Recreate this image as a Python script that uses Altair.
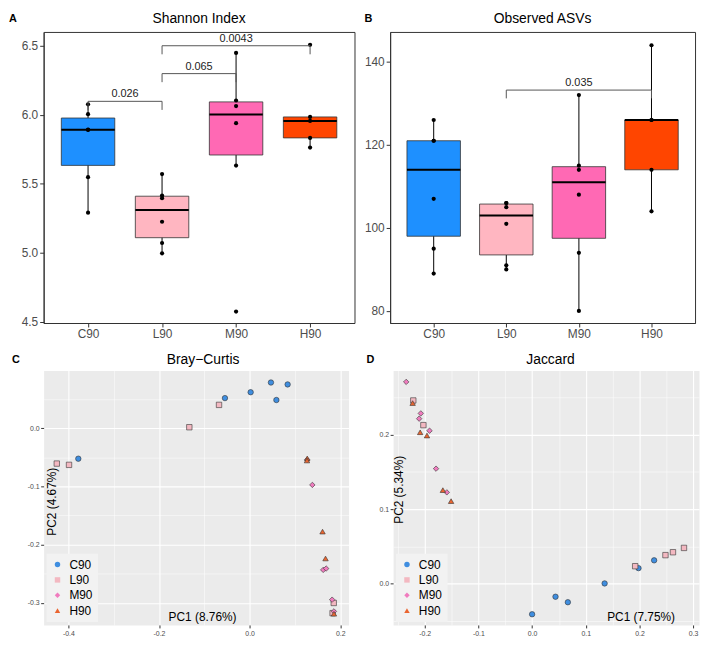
import altair as alt
import pandas as pd

FONT = "Liberation Sans"

groups = ["C90", "L90", "M90", "H90"]
box_colors = ["#1E90FF", "#FFB6C1", "#FF69B4", "#FF4500"]
point_colors = ["#3F8EE0", "#F3B8C1", "#F07BBE", "#EA6530"]
shapes = ["circle", "square", "diamond", "triangle-up"]
letters = ["A", "B", "C", "D"]
titles = ["Shannon Index", "Observed ASVs", "Bray\u2212Curtis", "Jaccard"]

# ---- Panel A: Shannon index ----
shannon_C90 = [6.075, 6.004, 5.892, 5.890, 5.547, 5.290]
shannon_L90 = [5.570, 5.414, 5.395, 5.224, 5.070, 4.995]
shannon_M90 = [6.448, 6.103, 6.063, 5.939, 5.631, 4.573]
shannon_H90 = [6.507, 5.984, 5.955, 5.832, 5.762]
shannon_from = ["C90", "L90", "L90"]
shannon_to = ["L90", "M90", "H90"]
shannon_bracket_y = [6.097, 6.298, 6.50]
shannon_p = ["0.026", "0.065", "0.0043"]

# ---- Panel B: Observed ASVs ----
asv_C90 = [126, 121, 121, 107, 95, 89]
asv_L90 = [106, 106, 105, 101, 91, 90]
asv_M90 = [132, 115, 114, 108, 94, 80]
asv_H90 = [144, 126, 126, 114, 104]
asv_from = ["L90"]
asv_to = ["H90"]
asv_bracket_y = [133.2]
asv_p = ["0.035"]

# ---- Panel C: Bray-Curtis PCoA ----
bray_C90_pc1 = [0.047, 0.0838, 0.0022, -0.0545, 0.059, -0.378]
bray_C90_pc2 = [0.0786, 0.0753, 0.0619, 0.0518, 0.0485, -0.0524]
bray_L90_pc1 = [-0.0676, -0.1331, -0.4255, -0.3985, 0.1855, 0.183]
bray_L90_pc2 = [0.0401, 0.0017, -0.0608, -0.063, -0.3005, -0.318]
bray_M90_pc1 = [0.127, 0.1383, 0.1623, 0.1688, 0.182, 0.186]
bray_M90_pc2 = [-0.054, -0.0975, -0.2436, -0.2413, -0.2948, -0.315]
bray_H90_pc1 = [0.127, 0.1265, 0.1608, 0.1674, 0.186]
bray_H90_pc2 = [-0.052, -0.0555, -0.1778, -0.224, -0.319]

# ---- Panel D: Jaccard PCoA ----
jac_C90_pc1 = [0.1982, 0.2273, 0.1351, 0.0436, 0.0666, 0.0]
jac_C90_pc2 = [0.0206, 0.0311, 0.0, -0.0179, -0.0253, -0.0415]
jac_L90_pc1 = [-0.2213, -0.2025, 0.192, 0.2484, 0.2624, 0.2829]
jac_L90_pc2 = [0.2463, 0.2131, 0.0232, 0.0381, 0.042, 0.0478]
jac_M90_pc1 = [-0.2345, -0.2073, -0.2104, -0.191, -0.1789, -0.1589]
jac_M90_pc2 = [0.2713, 0.2289, 0.2218, 0.2056, 0.1545, 0.1226]
jac_H90_pc1 = [-0.2225, -0.2085, -0.1958, -0.1662, -0.1509]
jac_H90_pc2 = [0.2428, 0.2034, 0.1991, 0.1256, 0.1108]


def long_frame(series):
    rows = []
    for i, (g, vals) in enumerate(zip(groups, series)):
        for v in vals:
            rows.append({"group": g, "idx": i + 1, "value": v})
    return pd.DataFrame(rows)


def pc_frame(xs, ys):
    rows = []
    for g, xv, yv in zip(groups, xs, ys):
        for a, b in zip(xv, yv):
            rows.append({"grp": g, "pc1": a, "pc2": b})
    return pd.DataFrame(rows)


def bracket_frames(g_from, g_to, ys, ps, tip):
    idx = {g: i + 1 for i, g in enumerate(groups)}
    br = pd.DataFrame({
        "x1": [idx[g] for g in g_from],
        "x2": [idx[g] for g in g_to],
        "y": ys,
        "p": ps,
    })
    br["xm"] = (br["x1"] + br["x2"]) / 2
    tips = []
    for a, b, y in zip(br["x1"], br["x2"], br["y"]):
        tips.append({"x": a, "y": y, "yt": y - tip})
        tips.append({"x": b, "y": y, "yt": y - tip})
    return br, pd.DataFrame(tips)


def header_layers(letter, title, lx, tx, ty):
    let = alt.Chart(pd.DataFrame({"t": [letter]})).mark_text(
        fontWeight="bold", fontSize=11, align="center", baseline="middle", color="black"
    ).encode(text="t:N", x=alt.value(lx), y=alt.value(ty))
    tit = alt.Chart(pd.DataFrame({"t": [title]})).mark_text(
        fontSize=14, align="center", baseline="middle", color="black"
    ).encode(text="t:N", x=alt.value(tx), y=alt.value(ty))
    return [let, tit]


def box_panel(df, br, tips, title, letter, ydom, yvals, yfmt, width, height, lx, tx, ty):
    xsc = alt.Scale(domain=[0.4, 4.6], nice=False, zero=False, padding=0)
    ysc = alt.Scale(domain=ydom, nice=False, zero=False, padding=0)
    label_expr = "[" + ",".join("'" + g + "'" for g in groups) + "][datum.value - 1]"
    xaxis = alt.Axis(title=None, values=[1, 2, 3, 4], labelExpr=label_expr, labelFontSize=12,
                     labelColor="#4D4D4D", tickColor="#333333", tickSize=4, domainColor="#333333",
                     labelPadding=2, labelAngle=0, grid=False, labelFlush=False)
    yaxis = alt.Axis(title=None, values=yvals, format=yfmt, labelFontSize=12, labelColor="#4D4D4D",
                     tickColor="#333333", tickSize=4, domainColor="#333333", grid=False, labelPadding=2)

    def X(f):
        return alt.X(f, scale=xsc, axis=xaxis)

    def Y(f):
        return alt.Y(f, scale=ysc, axis=yaxis)

    base = alt.Chart(df)
    whisk = base.transform_joinaggregate(
        q1="q1(value)", q3="q3(value)", groupby=["idx"]
    ).transform_calculate(
        lo="datum.q1 - 1.5 * (datum.q3 - datum.q1)",
        hi="datum.q3 + 1.5 * (datum.q3 - datum.q1)",
    ).transform_filter(
        "datum.value >= datum.lo && datum.value <= datum.hi"
    ).transform_aggregate(
        wmin="min(value)", wmax="max(value)", groupby=["idx"]
    ).mark_rule(color="black", strokeWidth=1).encode(
        x=X("idx:Q"), y=Y("wmin:Q"), y2="wmax:Q",
    )
    stats = base.transform_aggregate(
        q1="q1(value)", q3="q3(value)", med="median(value)", groupby=["idx", "group"]
    )
    boxes = stats.mark_bar(size=54, stroke="#333333", strokeWidth=0.8).encode(
        x=X("idx:Q"), y=Y("q1:Q"), y2="q3:Q",
        fill=alt.Fill("group:N", scale=alt.Scale(domain=groups, range=box_colors), legend=None),
    )
    medians = stats.mark_bar(size=54, stroke="black", strokeWidth=2, fill="black").encode(
        x=X("idx:Q"), y=Y("med:Q"), y2="med:Q",
    )
    pts = base.mark_circle(size=18, color="black", opacity=1).encode(
        x=X("idx:Q"), y=Y("value:Q"),
    )
    hline = alt.Chart(br).mark_rule(color="#555555", strokeWidth=1).encode(
        x=X("x1:Q"), x2="x2:Q", y=Y("y:Q"),
    )
    vline = alt.Chart(tips).mark_rule(color="#555555", strokeWidth=1).encode(
        x=X("x:Q"), y=Y("y:Q"), y2="yt:Q",
    )
    text = alt.Chart(br).mark_text(fontSize=11, color="#222222", baseline="bottom", dy=-2).encode(
        x=X("xm:Q"), y=Y("y:Q"), text="p:N",
    )
    return alt.layer(whisk, boxes, medians, pts, hline, vline, text,
                     *header_layers(letter, title, lx, tx, ty)).properties(
        width=width, height=height,
        view=alt.ViewBackground(fill="white", stroke="#333333", strokeWidth=1),
    )


def grid_axis(major, minor, title, tx, ty, angle):
    allv = sorted(major + minor)
    test = "indexof(" + str(major) + ", datum.value) >= 0"
    return alt.Axis(
        values=allv, format=".1f",
        labelExpr="indexof(" + str(major) + ", datum.value) >= 0 ? replace(datum.label, '\u2212', '-') : ''",
        labelFontSize=7, labelColor="#4D4D4D", labelPadding=1.5, labelOverlap=False, labelFlush=False,
        grid=True, gridColor="white",
        gridWidth={"condition": {"test": test, "value": 1.1}, "value": 0.5},
        tickOpacity={"condition": {"test": test, "value": 1}, "value": 0},
        tickSize=3, tickColor="#333333", domain=False,
        title=title, titleX=tx, titleY=ty, titleAngle=angle, titleBaseline="middle",
        titleFontSize=12, titleFontWeight="normal", titleColor="black", titleAlign="center",
    )


def pcoa_panel(df, title, letter, xdom, ydom, xmaj, xmin, ymaj, ymin, xt, yt,
               txx, txy, tyx, tyy, width, height, lx, tx, ty):
    leg = alt.Legend(title=None, orient="bottom-left", offset=3, padding=5,
                     fillColor="#F2F2F2", labelFontSize=12, labelColor="black", symbolSize=30,
                     symbolStrokeColor="#444444", symbolStrokeWidth=0.6, rowPadding=3.5, labelOffset=6)
    pts = alt.Chart(df).mark_point(filled=True, size=30, opacity=1,
                                   stroke="#333333", strokeWidth=0.6).encode(
        x=alt.X("pc1:Q", scale=alt.Scale(domain=xdom, nice=False, zero=False),
                axis=grid_axis(xmaj, xmin, xt, txx, txy, 0)),
        y=alt.Y("pc2:Q", scale=alt.Scale(domain=ydom, nice=False, zero=False),
                axis=grid_axis(ymaj, ymin, yt, tyx, tyy, -90)),
        fill=alt.Fill("grp:N", scale=alt.Scale(domain=groups, range=point_colors), legend=leg),
        shape=alt.Shape("grp:N", scale=alt.Scale(domain=groups, range=shapes), legend=leg),
    )
    return alt.layer(pts, *header_layers(letter, title, lx, tx, ty)).properties(
        width=width, height=height,
        view=alt.ViewBackground(fill="#EBEBEB", stroke="transparent"),
    )


sh_df = long_frame([shannon_C90, shannon_L90, shannon_M90, shannon_H90])
sh_br, sh_tips = bracket_frames(shannon_from, shannon_to, shannon_bracket_y, shannon_p, 0.062)
asv_df = long_frame([asv_C90, asv_L90, asv_M90, asv_H90])
asv_br, asv_tips = bracket_frames(asv_from, asv_to, asv_bracket_y, asv_p, 2.0)

panel_a = box_panel(sh_df, sh_br, sh_tips, titles[0], letters[0],
                    [4.49, 6.6], [4.5, 5.0, 5.5, 6.0, 6.5], ".1f", 314, 294, -31, 157, -13)
panel_b = box_panel(asv_df, asv_br, asv_tips, titles[1], letters[1],
                    [77.1, 147.2], [80, 100, 120, 140], "d", 308, 294, -22, 154, -13)

bray_df = pc_frame([bray_C90_pc1, bray_L90_pc1, bray_M90_pc1, bray_H90_pc1],
                   [bray_C90_pc2, bray_L90_pc2, bray_M90_pc2, bray_H90_pc2])
jac_df = pc_frame([jac_C90_pc1, jac_L90_pc1, jac_M90_pc1, jac_H90_pc1],
                  [jac_C90_pc2, jac_L90_pc2, jac_M90_pc2, jac_H90_pc2])

panel_c = pcoa_panel(bray_df, titles[2], letters[2],
                     [-0.4545, 0.2182], [-0.3383, 0.0992],
                     [-0.4, -0.2, 0.0, 0.2], [-0.3, -0.1, 0.1],
                     [-0.3, -0.2, -0.1, 0.0], [-0.25, -0.15, -0.05, 0.05],
                     "PC1 (8.76%)", "PC2 (4.67%)", 160, -8, 8, 132, 308, 257, -28, 161, -11)
panel_d = pcoa_panel(jac_df, titles[3], letters[3],
                     [-0.2589, 0.3109], [-0.0559, 0.2866],
                     [-0.2, -0.1, 0.0, 0.1, 0.2, 0.3], [-0.25, -0.15, -0.05, 0.05, 0.15, 0.25],
                     [0.0, 0.1, 0.2], [-0.05, 0.05, 0.15, 0.25],
                     "PC1 (7.75%)", "PC2 (5.34%)", 250, -8, 5, 120, 309, 257, -23, 159, -11)

row1 = alt.hconcat(panel_a, panel_b, spacing=8).resolve_scale(fill="independent")
row2 = alt.hconcat(panel_c, panel_d, spacing=16).resolve_scale(
    fill="independent", shape="independent").resolve_legend(fill="independent", shape="independent")
chart = alt.vconcat(row1, row2, spacing=11).resolve_scale(
    fill="independent", shape="independent").resolve_legend(
    fill="independent", shape="independent").properties(padding=0).configure(
    font=FONT, background="white")

chart.save("out.html", embed_options={"renderer": "svg", "actions": False})
